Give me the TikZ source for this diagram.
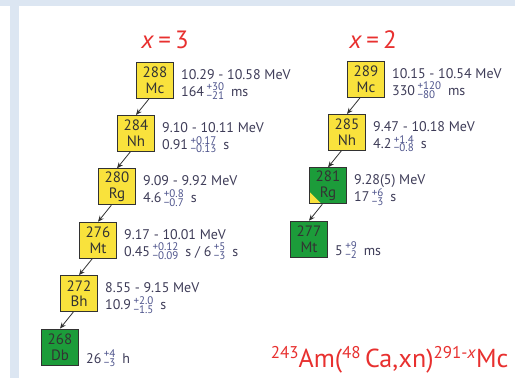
\documentclass[tikz,border=0pt]{standalone}
\usepackage{fontspec}
\setmainfont{PT Sans}
\usepackage{tikz}
\usetikzlibrary{arrows.meta, calc}
\definecolor{framec}{RGB}{220,230,242}
\definecolor{redc}{RGB}{232,48,47}
\definecolor{textc}{RGB}{62,60,88}
\definecolor{scriptc}{RGB}{78,84,140}
\definecolor{yellowbox}{RGB}{249,226,60}
\definecolor{greenbox}{RGB}{28,156,58}
\definecolor{boxline}{RGB}{50,50,50}
\newcommand\stepX{19}
\newcommand\stepY{53.4}
\newcommand\gapX{7pt}
% stacked errors: upper, lower
\newcommand{\errs}[2]{\raisebox{-3.5pt}{\color{scriptc}\fontsize{11}{8.8}\selectfont\vbox{\hbox{#1}\hbox{#2}}}}
\newcommand{\halflife}[4]{#1\hspace{2.5pt}\errs{#2}{#3}\hspace{7pt}#4}
\newcommand{\rsup}[1]{\raisebox{8.5pt}{\fontsize{17}{17}\selectfont #1}}
\tikzset{
  nuc/.style={draw=boxline, line width=0.9pt, minimum width=37pt, minimum height=36pt,
    inner sep=0pt, align=center, text=black!80, font=\fontsize{15}{15.5}\selectfont},
  alpha/.style={fill=yellowbox},
  sf/.style={fill=greenbox},
  mixed/.style={fill=greenbox, path picture={
    \fill[yellowbox] (path picture bounding box.south west) -- ++(12pt,0pt) -- ++(-12pt,12pt) -- cycle;}},
  energy/.style={anchor=base west, inner sep=0pt, text=textc, font=\fontsize{14}{15}\selectfont},
  decay/.style={-{Stealth[length=6pt,width=5pt]}, draw=boxline, line width=0.8pt},
  title/.style={text=redc, font=\fontsize{25}{25}\selectfont}
}
\begin{document}
\begin{tikzpicture}[x=1pt, y=-1pt]
    \useasboundingbox (0,0) rectangle (515,378);
    \fill[white] (0,0) rectangle (515,378);
    \fill[framec] (0,0) rectangle (515,6);
    \fill[framec] (10,6) rectangle (19,378);

    \node[title] (t3) at (165,40) {\textit{x}\,=\,3};
    \node[title] (t2) at (373,40) {\textit{x}\,=\,2};

    % x = 3 chain
    \begin{scope}[shift={(155,80)}]
        \node[nuc, alpha] (mc288) at (0,0) {288\\Mc};
        \node[nuc, alpha] (nh284) at (-\stepX,\stepY) {284\\Nh};
        \node[nuc, alpha] (rg280) at (-2*\stepX,2*\stepY) {280\\Rg};
        \node[nuc, alpha] (mt276) at (-3*\stepX,3*\stepY) {276\\Mt};
        \node[nuc, alpha] (bh272) at (-4*\stepX,4*\stepY) {272\\Bh};
        \node[nuc, sf] (db268) at (-5*\stepX,5*\stepY) {268\\Db};
    \end{scope}

    \node[energy] (e288) at ([xshift=\gapX,yshift=1pt]mc288.east) {10.29 - 10.58 MeV};
    \node[energy] (h288) at ([xshift=\gapX,yshift=-16pt]mc288.east) {\halflife{164}{+30}{−21}{ms}};
    \node[energy] (e284) at ([xshift=\gapX,yshift=1pt]nh284.east) {9.10 - 10.11 MeV};
    \node[energy] (h284) at ([xshift=\gapX,yshift=-16pt]nh284.east) {\halflife{0.91}{+0.17}{−0.13}{s}};
    \node[energy] (e280) at ([xshift=\gapX,yshift=1pt]rg280.east) {9.09 - 9.92 MeV};
    \node[energy] (h280) at ([xshift=\gapX,yshift=-16pt]rg280.east) {\halflife{4.6}{+0.8}{−0.7}{s}};
    \node[energy] (e276) at ([xshift=\gapX,yshift=1pt]mt276.east) {9.17 - 10.01 MeV};
    \node[energy] (h276) at ([xshift=\gapX,yshift=-16pt]mt276.east) {\halflife{0.45}{+0.12}{−0.09}{s}\ /\ \halflife{6}{+5}{−3}{s}};
    \node[energy] (e272) at ([xshift=\gapX,yshift=1pt]bh272.east) {8.55 - 9.15 MeV};
    \node[energy] (h272) at ([xshift=\gapX,yshift=-16pt]bh272.east) {\halflife{10.9}{+2.0}{−1.5}{s}};
    \node[energy] (h268) at ([xshift=\gapX,yshift=-16pt]db268.east) {\halflife{26}{+4}{−3}{h}};

    \draw[decay] ($(mc288.south west)!0.35!(mc288.south east)$) -- (nh284.north);
    \draw[decay] ($(nh284.south west)!0.35!(nh284.south east)$) -- (rg280.north);
    \draw[decay] ($(rg280.south west)!0.35!(rg280.south east)$) -- (mt276.north);
    \draw[decay] ($(mt276.south west)!0.35!(mt276.south east)$) -- (bh272.north);
    \draw[decay] ($(bh272.south west)!0.35!(bh272.south east)$) -- (db268.north);

    % x = 2 chain
    \begin{scope}[shift={(366,79)}]
        \node[nuc, alpha] (mc289) at (0,0) {289\\Mc};
        \node[nuc, alpha] (nh285) at (-\stepX,\stepY) {285\\Nh};
        \node[nuc, mixed] (rg281) at (-2*\stepX,2*\stepY) {281\\Rg};
        \node[nuc, sf] (mt277) at (-3*\stepX,3*\stepY) {277\\Mt};
    \end{scope}

    \node[energy] (e289) at ([xshift=\gapX,yshift=1pt]mc289.east) {10.15 - 10.54 MeV};
    \node[energy] (h289) at ([xshift=\gapX,yshift=-16pt]mc289.east) {\halflife{330}{+120}{−80}{ms}};
    \node[energy] (e285) at ([xshift=\gapX,yshift=1pt]nh285.east) {9.47 - 10.18 MeV};
    \node[energy] (h285) at ([xshift=\gapX,yshift=-16pt]nh285.east) {\halflife{4.2}{+1.4}{−0.8}{s}};
    \node[energy] (e281) at ([xshift=\gapX,yshift=1pt]rg281.east) {9.28(5) MeV};
    \node[energy] (h281) at ([xshift=\gapX,yshift=-16pt]rg281.east) {\halflife{17}{+6}{−3}{s}};
    \node[energy] (h277) at ([xshift=\gapX,yshift=-16pt]mt277.east) {\halflife{5}{+9}{−2}{ms}};

    \draw[decay] ($(mc289.south west)!0.35!(mc289.south east)$) -- (nh285.north);
    \draw[decay] ($(nh285.south west)!0.35!(nh285.south east)$) -- (rg281.north);
    \draw[decay] ($(rg281.south west)!0.35!(rg281.south east)$) -- (mt277.north);

    \node[title, anchor=base east, font=\fontsize{26}{26}\selectfont] (react) at (512,367) {\rsup{243}Am(\rsup{48}\,Ca,xn)\rsup{291-\textit{x}}Mc};
\end{tikzpicture}
\end{document}
